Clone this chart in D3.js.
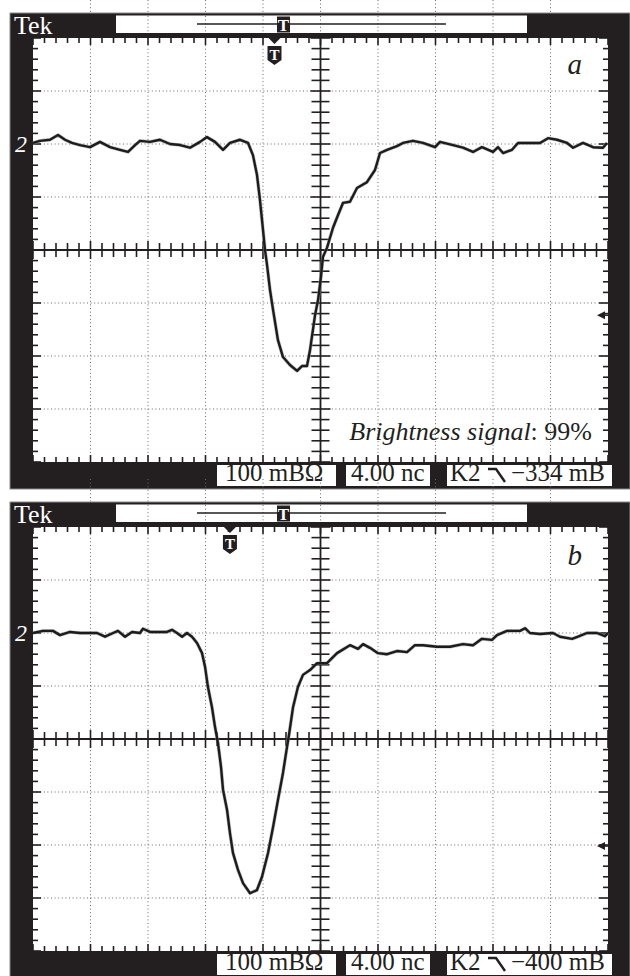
<!DOCTYPE html>
<html><head><meta charset="utf-8">
<script src="https://cdn.jsdelivr.net/npm/d3@7"></script>
<style>
html,body{margin:0;padding:0;background:#fff;}
svg{display:block;}
</style></head>
<body>
<script>
// ---- data (time in ns, signal in mV) ----
const timeA = [0,0.49,1.18,1.74,2.23,2.71,3.27,3.97,4.66,5.36,6.05,6.61,7.10,7.44,8.14,8.83,9.53,10.23,10.92,11.62,12.10,12.66,13.22,13.70,14.40,14.96,15.30,15.58,15.79,16.00,16.14,16.28,16.49,16.70,17.04,17.39,17.88,18.37,18.71,19.06,19.27,19.62,19.83,20.03,20.17,20.45,20.87,21.22,21.57,22.05,22.54,23.23,23.79,24.14,24.63,25.32,25.74,26.43,27.13,27.97,28.31,29.22,29.91,30.61,31.23,32.00,32.35,32.70,33.32,33.74,34.57,35.27,35.83,36.45,37.15,37.57,38.26,38.96,39.65,39.93];
const signalA = [202,206,208,217,208,202,198,194,204,194,189,185,198,206,204,208,200,198,193,204,213,204,189,202,208,202,179,142,94,38,0,-28,-76,-113,-170,-202,-217,-228,-219,-219,-189,-123,-94,-51,-13,4,42,66,89,91,117,128,151,183,189,196,202,206,202,194,204,198,193,185,194,185,194,183,189,202,202,202,211,208,202,193,202,194,193,202];
const timeB = [0,0.70,1.39,1.88,2.57,3.27,3.97,4.45,5.01,5.57,5.91,6.40,6.89,7.44,7.65,8.14,8.63,9.32,9.67,10.02,10.37,10.71,11.06,11.41,11.76,11.97,12.17,12.45,12.66,12.87,13.08,13.22,13.50,13.70,13.91,14.26,14.61,15.10,15.58,15.93,16.35,16.70,17.04,17.39,17.67,17.81,18.09,18.43,18.78,19.27,19.76,20.45,21.15,22.05,22.61,22.96,23.44,24.00,24.63,25.32,26.02,26.57,27.13,28.10,29.01,29.91,30.61,31.23,31.93,32.28,32.97,33.88,34.23,34.57,35.27,36.17,36.66,37.50,37.91,38.54,39.23,39.79,40.00];
const signalB = [200,204,204,196,202,200,200,200,193,200,204,193,202,200,208,202,202,202,206,200,193,200,193,181,162,136,98,60,23,-8,-53,-96,-134,-177,-215,-247,-272,-291,-285,-260,-215,-166,-115,-64,-15,8,60,98,121,130,143,143,162,177,170,179,172,162,160,166,164,177,177,174,174,179,177,189,187,196,204,204,209,200,198,200,193,189,193,200,200,194,200];

const panelLabels = ["a", "b"];
const triggerTimes = [16.8, 13.7];       // ns, trigger marker position
const triggerLevels = [-123, -202];      // mV, right-side marker
const footerScale = ["100 mBΩ", "4.00 nc"];
const footerChan = ["K2", "K2"];
const footerLevel = ["−334 mB", "−400 mB"];
const xTicksMajor = [0,4,8,12,16,20,24,28,32,36,40];
const yTicksMajor = [-400,-300,-200,-100,0,100,200,300,400];

const W = 630, H = 976;
const FONT = "'Liberation Serif','Times New Roman',serif";
const INK = "#231f20";

const svg = d3.select("body").append("svg").attr("width", W).attr("height", H);

const x = d3.scaleLinear().domain([0, 40]).range([33, 608]);
const y = d3.scaleLinear().domain([-400, 400]).range([462, 38]);

function panel(idx, dy, times, sig) {
  const g = svg.append("g").attr("transform", `translate(0,${dy})`);
  // frame
  g.append("rect").attr("x", 10).attr("y", 13).attr("width", 620).attr("height", 476)
    .attr("fill", INK).attr("stroke", "#8a8a8a").attr("stroke-width", 1);
  // plot area
  g.append("rect").attr("x", x(0)).attr("y", y(400)).attr("width", x(40) - x(0)).attr("height", y(-400) - y(400)).attr("fill", "#fff");
  // top bar
  g.append("rect").attr("x", 116).attr("y", 15.5).attr("width", 411).attr("height", 17.5).attr("fill", "#fff");

  const gridX = xTicksMajor.filter(d => d > 0 && d < 40 && d !== 20);
  const gridY = yTicksMajor.filter(d => d > -400 && d < 400 && d !== 0);
  const dot = sel => sel.attr("stroke", "#6a6a6a").attr("stroke-width", 1).attr("stroke-dasharray", "1,2.6");
  // dotted vertical in gaps and bar
  [[dy === 0 ? 0 : -10, 12.5], [16, 33]].forEach(([a, b]) => {
    g.selectAll(null).data(xTicksMajor.filter(d => d > 0 && d < 40)).enter().append("line")
      .attr("x1", d => x(d)).attr("x2", d => x(d)).attr("y1", a).attr("y2", b)
      .filter(d => x(d) > 116 && x(d) < 527 || a < 13).call(dot);
  });
  g.selectAll("line").filter(function(){ return !this.getAttribute("stroke"); }).remove();

  // dotted grid
  g.selectAll(null).data(gridX).enter().append("line")
    .attr("x1", d => x(d)).attr("x2", d => x(d)).attr("y1", y(400)).attr("y2", y(-400)).call(dot);
  g.selectAll(null).data(gridY).enter().append("line")
    .attr("x1", x(0)).attr("x2", x(40)).attr("y1", d => y(d)).attr("y2", d => y(d)).call(dot);

  // bar content: horizontal record line and T marker
  g.append("line").attr("x1", 197).attr("x2", 446).attr("y1", 24).attr("y2", 24).attr("stroke", INK).attr("stroke-width", 1.6);
  g.append("rect").attr("x", 277).attr("y", 16.5).attr("width", 13).attr("height", 16).attr("fill", INK);
  g.append("text").attr("x", 283.5).attr("y", 31).attr("text-anchor", "middle").attr("fill", "#fff")
    .attr("font-family", FONT).attr("font-weight", "bold").attr("font-size", 17).text("T");

  // edge ticks
  const xMinor = d3.range(0, 40.001, 0.8);
  const yMinor = d3.range(-400, 400.001, 20);
  const tk = sel => sel.attr("stroke", INK).attr("stroke-width", 1.6);
  const isMajX = d => Math.abs(d / 4 - Math.round(d / 4)) < 1e-6;
  const isMajY = d => Math.abs(d / 100 - Math.round(d / 100)) < 1e-6;
  g.selectAll(null).data(xMinor).enter().append("line")
    .attr("x1", d => x(d)).attr("x2", d => x(d)).attr("y1", y(400)).attr("y2", d => y(400) + (isMajX(d) ? 7 : 5)).call(tk);
  g.selectAll(null).data(xMinor).enter().append("line")
    .attr("x1", d => x(d)).attr("x2", d => x(d)).attr("y1", y(-400)).attr("y2", d => y(-400) - (isMajX(d) ? 7 : 5)).call(tk);
  g.selectAll(null).data(yMinor).enter().append("line")
    .attr("y1", d => y(d)).attr("y2", d => y(d)).attr("x1", x(0)).attr("x2", d => x(0) + (isMajY(d) ? 8 : 5)).call(tk);
  g.selectAll(null).data(yMinor).enter().append("line")
    .attr("y1", d => y(d)).attr("y2", d => y(d)).attr("x1", x(40)).attr("x2", d => x(40) - (isMajY(d) ? 9 : 5)).call(tk);

  // center axes
  g.append("line").attr("x1", x(0)).attr("x2", x(40)).attr("y1", y(0)).attr("y2", y(0)).attr("stroke", INK).attr("stroke-width", 1.8);
  g.append("line").attr("x1", x(20)).attr("x2", x(20)).attr("y1", y(400)).attr("y2", y(-400)).attr("stroke", INK).attr("stroke-width", 1.8);
  g.selectAll(null).data(xMinor).enter().append("line")
    .attr("x1", d => x(d)).attr("x2", d => x(d))
    .attr("y1", d => y(0) - (isMajX(d) ? 9 : 7)).attr("y2", d => y(0) + (isMajX(d) ? 9 : 7)).call(tk);
  g.selectAll(null).data(yMinor).enter().append("line")
    .attr("y1", d => y(d)).attr("y2", d => y(d))
    .attr("x1", d => x(20) - (isMajY(d) ? 10 : 9)).attr("x2", d => x(20) + (isMajY(d) ? 10 : 9)).call(tk);

  // trace
  const pts = times.map((t, i) => [t, sig[i]]);
  const line = d3.line().x(d => x(d[0])).y(d => y(d[1])).curve(d3.curveLinear);
  g.append("path").datum(pts).attr("d", line).attr("fill", "none")
    .attr("stroke", "#9a9a9a").attr("stroke-width", 3.6).attr("stroke-linejoin", "round").attr("opacity", 0.6);
  g.append("path").datum(pts).attr("d", line).attr("fill", "none")
    .attr("stroke", "#1c1c1c").attr("stroke-width", 2.4).attr("stroke-linejoin", "round");

  // trigger marker (top)
  const tx = x(triggerTimes[idx]);
  g.append("path").attr("d", `M${tx-6},${y(400)} L${tx+6},${y(400)} L${tx},${y(400)+6} Z`).attr("fill", INK);
  g.append("path").attr("d", `M${tx-7},${y(400)+8} L${tx+7},${y(400)+8} L${tx+7},${y(400)+22} L${tx},${y(400)+27} L${tx-7},${y(400)+22} Z`).attr("fill", INK);
  g.append("text").attr("x", tx).attr("y", y(400) + 22).attr("text-anchor", "middle").attr("fill", "#fff")
    .attr("font-family", FONT).attr("font-weight", "bold").attr("font-size", 15).text("T");

  // right trigger level marker
  const ty = y(triggerLevels[idx]);
  g.append("path").attr("d", `M${x(40)-11},${ty} L${x(40)-3},${ty-4} L${x(40)-3},${ty+4} Z`).attr("fill", INK);
  g.append("line").attr("x1", x(40)-4).attr("x2", x(40)).attr("y1", ty).attr("y2", ty).attr("stroke", INK).attr("stroke-width", 1.5);

  // channel ground marker "2"
  g.append("text").attr("x", 15).attr("y", y(200) + 8).attr("fill", "#fff").attr("font-family", FONT)
    .attr("font-style", "italic").attr("font-size", 24).text("2");

  // Tek
  g.append("text").attr("x", 14).attr("y", 34).attr("fill", "#fff").attr("font-family", FONT)
    .attr("font-size", 26).text("Tek");

  // panel label
  g.append("text").attr("x", 582).attr("y", idx === 0 ? 74 : 76).attr("text-anchor", "end").attr("fill", INK)
    .attr("font-family", FONT).attr("font-style", "italic").attr("font-size", 29).text(panelLabels[idx]);

  // footer boxes
  const fy = 465, fh = 21;
  [[217, 119], [346, 84], [447, 165]].forEach(([bx, bw]) => {
    g.append("rect").attr("x", bx).attr("y", fy).attr("width", bw).attr("height", fh).attr("fill", "#fff");
  });
  const ft = (tx0, s) => g.append("text").attr("x", tx0).attr("y", 481).attr("fill", INK)
    .attr("font-family", FONT).attr("font-size", 25).text(s);
  ft(225, footerScale[0]);
  ft(351, footerScale[1]);
  ft(450, footerChan[idx]);
  g.append("path").attr("d", "M488,469 L496,469 L505,482").attr("fill", "none").attr("stroke", INK).attr("stroke-width", 2.4);
  ft(511, footerLevel[idx]);

  if (idx === 0) {
    const t = g.append("text").attr("x", 592).attr("y", 440).attr("text-anchor", "end").attr("fill", INK)
      .attr("font-family", FONT).attr("font-size", 26);
    t.append("tspan").attr("font-style", "italic").text("Brightness signal");
    t.append("tspan").text(": 99%");
  }
}

panel(0, 0, timeA, signalA);
panel(1, 489, timeB, signalB);
</script>
</body></html>
